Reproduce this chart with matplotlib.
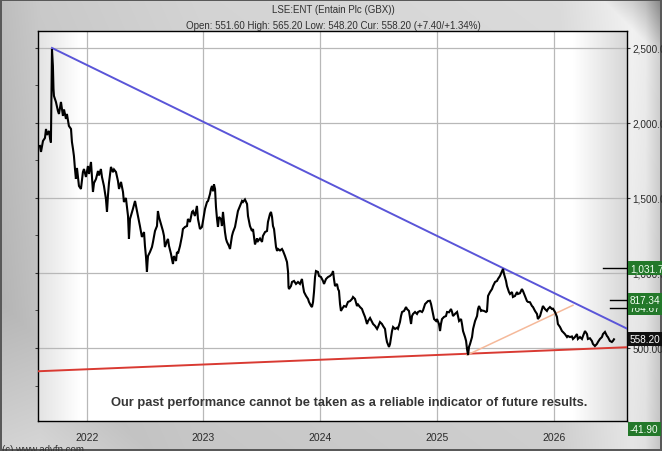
import numpy as np
import matplotlib
matplotlib.use("Agg")
import matplotlib.pyplot as plt
from matplotlib.transforms import blended_transform_factory

# ---------------- data ----------------
t = [2021.600, 2021.609, 2021.626, 2021.643, 2021.652, 2021.660, 2021.677, 2021.686, 2021.694, 2021.703,
     2021.711, 2021.716, 2021.720, 2021.737, 2021.754, 2021.763, 2021.780, 2021.797, 2021.806, 2021.823,
     2021.831, 2021.848, 2021.866, 2021.874, 2021.883, 2021.891, 2021.900, 2021.908, 2021.917, 2021.934,
     2021.951, 2021.968, 2021.977, 2021.994, 2022.011, 2022.020, 2022.037, 2022.054, 2022.063, 2022.080,
     2022.097, 2022.105, 2022.122, 2022.131, 2022.148, 2022.165, 2022.174, 2022.182, 2022.191, 2022.208,
     2022.225, 2022.234, 2022.251, 2022.268, 2022.277, 2022.294, 2022.311, 2022.319, 2022.336, 2022.354,
     2022.362, 2022.371, 2022.396, 2022.414, 2022.439, 2022.456,
     2022.473, 2022.491, 2022.499, 2022.508, 2022.516, 2022.521, 2022.525, 2022.542, 2022.559, 2022.568,
     2022.585, 2022.602, 2022.610, 2022.619, 2022.636, 2022.653, 2022.662, 2022.670, 2022.688, 2022.696,
     2022.705, 2022.722, 2022.730, 2022.739, 2022.747, 2022.765, 2022.773, 2022.782, 2022.799, 2022.816,
     2022.824, 2022.842, 2022.859, 2022.867, 2022.884, 2022.902, 2022.910, 2022.927, 2022.944, 2022.953,
     2022.970, 2022.987, 2022.996, 2023.013, 2023.030, 2023.039, 2023.056, 2023.064, 2023.073, 2023.082,
     2023.090, 2023.099, 2023.107, 2023.116, 2023.124, 2023.133, 2023.150, 2023.158, 2023.167, 2023.184,
     2023.193, 2023.201, 2023.218, 2023.227, 2023.244, 2023.253, 2023.270, 2023.287, 2023.295, 2023.313,
     2023.330, 2023.338, 2023.355, 2023.373, 2023.381, 2023.398, 2023.415, 2023.424, 2023.441, 2023.458,
     2023.467,
     2023.484, 2023.501, 2023.509, 2023.527, 2023.544, 2023.552, 2023.569, 2023.578, 2023.587, 2023.595,
     2023.604, 2023.621, 2023.630, 2023.638, 2023.655, 2023.672, 2023.681, 2023.698, 2023.715, 2023.724,
     2023.728, 2023.732, 2023.749, 2023.758, 2023.775, 2023.792, 2023.809, 2023.826, 2023.843, 2023.852,
     2023.861, 2023.878, 2023.895, 2023.903, 2023.921, 2023.929, 2023.938, 2023.946, 2023.955, 2023.963,
     2023.980, 2023.989, 2024.006, 2024.023, 2024.032, 2024.049, 2024.066, 2024.083, 2024.100, 2024.109,
     2024.117, 2024.126, 2024.143, 2024.152, 2024.160, 2024.169, 2024.177, 2024.186, 2024.203, 2024.220,
     2024.229, 2024.237, 2024.255, 2024.272, 2024.280, 2024.297, 2024.314, 2024.323, 2024.340, 2024.357,
     2024.366, 2024.383, 2024.400, 2024.409, 2024.426,
     2024.443, 2024.452, 2024.469, 2024.486, 2024.494, 2024.511, 2024.528, 2024.537, 2024.554, 2024.563,
     2024.571, 2024.588, 2024.597, 2024.606, 2024.614, 2024.623, 2024.640, 2024.657, 2024.665, 2024.682,
     2024.691, 2024.700, 2024.717, 2024.734, 2024.742, 2024.759, 2024.777, 2024.785, 2024.794, 2024.811,
     2024.828, 2024.837, 2024.854, 2024.871, 2024.879, 2024.897, 2024.914, 2024.922, 2024.939, 2024.948,
     2024.965, 2024.974, 2024.991, 2024.999, 2025.016, 2025.025, 2025.033, 2025.042, 2025.059, 2025.076,
     2025.085, 2025.102, 2025.119, 2025.128, 2025.136, 2025.153, 2025.171, 2025.179, 2025.188, 2025.205,
     2025.213, 2025.222, 2025.239, 2025.248, 2025.256, 2025.265, 2025.273, 2025.282, 2025.299, 2025.308,
     2025.325, 2025.342, 2025.350, 2025.359, 2025.376, 2025.385, 2025.402, 2025.419, 2025.427,
     2025.436, 2025.445, 2025.453, 2025.470, 2025.479, 2025.496, 2025.513, 2025.521, 2025.538, 2025.556,
     2025.564, 2025.573, 2025.590, 2025.598, 2025.615, 2025.624, 2025.641, 2025.649, 2025.667, 2025.684,
     2025.692, 2025.709, 2025.726, 2025.735, 2025.752, 2025.769, 2025.778, 2025.795, 2025.812, 2025.821,
     2025.838, 2025.855, 2025.863, 2025.881, 2025.898, 2025.906, 2025.923, 2025.940, 2025.949, 2025.966,
     2025.983, 2025.992, 2026.009, 2026.026, 2026.034, 2026.052, 2026.069, 2026.077, 2026.094, 2026.112,
     2026.120, 2026.137, 2026.154, 2026.163, 2026.180, 2026.197, 2026.205, 2026.223, 2026.240, 2026.249,
     2026.266, 2026.283, 2026.291, 2026.308, 2026.325, 2026.334, 2026.351, 2026.368, 2026.377, 2026.394,
     2026.411, 2026.420, 2026.437, 2026.454, 2026.462, 2026.479, 2026.496, 2026.505, 2026.514]

price = [1847, 1807, 1880, 1900, 1960, 1920, 1947, 1900, 1870, 2493,
         2380, 2227, 2180, 2140, 2080, 2060, 2140, 2047, 2090, 2027,
         2060, 1980, 1960, 1873, 1827, 1780, 1693, 1627, 1700, 1580,
         1560, 1673, 1693, 1640, 1713, 1660, 1740, 1540, 1600, 1627,
         1680, 1650, 1693, 1640, 1580, 1493, 1407, 1513, 1600, 1707,
         1672, 1690, 1673, 1613, 1560, 1607, 1540, 1473, 1500, 1380,
         1227, 1360, 1427, 1480, 1380, 1313,
         1240, 1273, 1180, 1107, 1007, 1073, 1113, 1140, 1173, 1207,
         1280, 1313, 1413, 1373, 1327, 1280, 1247, 1173, 1213, 1227,
         1180, 1127, 1093, 1060, 1113, 1080, 1140, 1130, 1180, 1247,
         1293, 1307, 1313, 1360, 1340, 1407, 1413, 1380, 1447, 1360,
         1293, 1307, 1347, 1427, 1473, 1480, 1527, 1560, 1580, 1545,
         1590, 1560, 1440, 1360, 1307, 1373, 1360, 1313, 1407, 1273,
         1227, 1207, 1180, 1160, 1247, 1273, 1307, 1380, 1413, 1447,
         1480, 1473, 1490, 1460, 1380, 1313, 1280, 1293, 1190, 1230,
         1213,
         1230, 1207, 1247, 1273, 1280, 1340, 1393, 1407, 1373, 1313,
         1293, 1173, 1147, 1160, 1150, 1160, 1147, 1113, 1073, 1007,
         907, 893, 913, 940, 947, 927, 940, 927, 960, 913,
         873, 847, 827, 807, 780, 773, 807, 873, 973, 1013,
         1007, 980, 973, 947, 927, 960, 973, 980, 993, 1013,
         960, 913, 927, 893, 880, 793, 747, 760, 780, 775,
         793, 807, 813, 827, 840, 827, 780, 790, 773, 760,
         740, 707, 660, 680, 700,
         673, 660, 647, 627, 640, 673, 660, 647, 627, 573,
         540, 507, 527, 573, 613, 640, 627, 635, 628, 673,
         713, 740, 747, 773, 760, 747, 660, 713, 727, 740,
         727, 740, 747, 740, 750, 793, 807, 813, 815, 793,
         727, 693, 680, 693, 660, 613, 660, 693, 707, 713,
         740, 738, 760, 740, 713, 727, 740, 713, 680, 693,
         660, 613, 573, 547, 493, 453, 507, 527, 573, 627,
         680, 713, 760, 780, 747, 750, 747, 740, 745,
         847, 860, 873, 893, 913, 940, 947, 960, 980, 1013,
         1027, 993, 947, 913, 873, 860, 873, 840, 847, 873,
         860, 865, 893, 880, 847, 813, 807, 805, 780, 773,
         747, 727, 693, 713, 760, 780, 760, 747, 760, 773,
         760, 762, 740, 707, 660, 640, 613, 607, 593, 573,
         580, 573, 577, 560, 573, 593, 560, 573, 560, 580,
         613, 593, 560, 565, 547, 527, 513, 527, 540, 560,
         573, 593, 607, 580, 573, 547, 540, 547, 558]

resist_t = [2021.703, 2026.623]
resist_v = [2500, 630]
support_t = [2021.586, 2026.623]
support_v = [345, 505]
trend_t = [2025.256, 2026.163]
trend_v = [453, 785]

x_ticks = [2022, 2023, 2024, 2025, 2026]
x_labels = ["2022", "2023", "2024", "2025", "2026"]
y_ticks = [500, 1000, 1500, 2000, 2500]
y_minor = [250, 750, 1250, 1750, 2250]

level_vals = [1031.70, 764.67, 817.34, 558.20, -41.90]
level_text = ["1,031.70", "764.67", "817.34", "558.20", "-41.90"]
level_kind = ["green", "green", "green", "black", "green"]
marker_vals = [1031.70, 817.34, 764.67]
marker_start = [0.960, 0.972, 0.972]

title = "LSE:ENT (Entain Plc (GBX))"
subtitle = "Open: 551.60 High: 565.20 Low: 548.20 Cur: 558.20 (+7.40/+1.34%)"
disclaimer = "Our past performance cannot be taken as a reliable indicator of future results."
footer = "(c) www.advfn.com"

# ---------------- figure ----------------
W, H = 662, 452
fig = plt.figure(figsize=(W / 100, H / 100), dpi=100)

# metallic frame background
bg = fig.add_axes([0, 0, 1, 1])
bg.set_axis_off()
xx, yy = np.meshgrid(np.arange(W), np.arange(H))
g = np.interp(xx, [0, 40, 200, 560, 632, 645, 662], [0.74, 0.79, 0.83, 0.86, 0.95, 0.93, 0.80])
g = g - 0.05 * (yy / H)
d = xx + (H - yy)
g = g + np.where(d < 150, 0.14 * (1 - d / 150), 0)
d2 = (W - xx) + yy
g = g - np.where(d2 < 60, 0.30 * (1 - d2 / 60), 0)
g = np.clip(g, 0, 1)
img = np.dstack([g, g, g])
img[:2, :, :] = 0.35
img[-2:, :, :] = 0.35
img[:, :2, :] = 0.35
img[:, -2:, :] = 0.35
bg.imshow(img, extent=[0, 1, 0, 1], aspect="auto", transform=bg.transAxes, interpolation="bilinear")
bg.set_xlim(0, 1)
bg.set_ylim(0, 1)

left, right, top, bottom = 38.3, 626.7, 32.3, 421.5
ax = fig.add_axes([left / W, (H - bottom) / H, (right - left) / W, (bottom - top) / H])
ax.patch.set_visible(False)

# plot area gradient
u = np.linspace(0, 1, 600)
pg = np.interp(u, [0, 0.07, 0.91, 1.0], [0.89, 1.0, 1.0, 0.84])
pimg = np.dstack([np.tile(pg, (10, 1))] * 3)
ax.imshow(pimg, extent=[0, 1, 0, 1], aspect="auto", transform=ax.transAxes, zorder=0,
          interpolation="bilinear")

ax.set_xlim(2021.586, 2026.623)
ax.set_ylim(16.7, 2611)

# grid
for xt in x_ticks:
    ax.axvline(xt, color="#b8b8b8", lw=0.9, zorder=1)
for yt in y_ticks:
    ax.axhline(yt, color="#b8b8b8", lw=0.9, zorder=1)

# lines
ax.plot(support_t, support_v, color="#d93a32", lw=1.4, zorder=3)
ax.plot(trend_t, trend_v, color="#f5b99a", lw=1.1, zorder=3)
ax.plot(resist_t, resist_v, color="#5a55d8", lw=1.4, zorder=3)
ax.plot(t, price, color="black", lw=1.5, zorder=4, solid_joinstyle="miter")

# level markers
tr = blended_transform_factory(ax.transAxes, ax.transData)
for v, s in zip(marker_vals, marker_start):
    ax.plot([s, 1.0], [v, v], color="black", lw=1.0, transform=tr, zorder=5, clip_on=False)

# axes formatting
ax.set_xticks(x_ticks)
ax.set_xticklabels(x_labels)
ax.yaxis.tick_right()
ax.set_yticks(y_ticks)
ax.set_yticklabels([f"{v:,.2f}" for v in y_ticks])
ax.set_yticks(y_minor, minor=True)
ax.tick_params(axis="x", length=0, pad=8.5, labelsize=7.5, labelcolor="#2a2a2a")
ax.tick_params(axis="y", which="major", right=True, left=True, direction="out", length=2.5,
               pad=1.5, labelsize=7.2, labelcolor="#2a2a2a", color="#333333")
ax.tick_params(axis="y", which="minor", left=True, right=False, direction="out", length=2.5,
               color="#333333")
for lab in ax.get_xticklabels() + ax.get_yticklabels():
    lab.set_fontfamily(["Liberation Sans", "DejaVu Sans"])
for sp in ax.spines.values():
    sp.set_color("black")
    sp.set_linewidth(1.0)

# right-hand value boxes
for v, txt, kind in zip(level_vals, level_text, level_kind):
    fc = "#23782a" if kind == "green" else "#101010"
    ax.text(1.0055, v, txt, transform=tr, ha="left", va="center", fontsize=7.2,
            family=["Liberation Sans", "DejaVu Sans"], color="#f2fff2" if kind == "green" else "white",
            clip_on=False, zorder=6,
            bbox=dict(boxstyle="square,pad=0.22", fc=fc, ec="none"))

# disclaimer
ax.text(0.529, 0.047, disclaimer, transform=ax.transAxes, ha="center", va="center",
        fontsize=9.3, fontweight="bold", color="#353535",
        family=["Liberation Sans", "DejaVu Sans"], zorder=6)

# titles
fig.text(333 / W, 1 - 10 / H, title, ha="center", va="center", fontsize=7,
         family=["Liberation Sans", "DejaVu Sans"], color="#303030")
fig.text(333 / W, 1 - 26 / H, subtitle, ha="center", va="center", fontsize=7,
         family=["Liberation Sans", "DejaVu Sans"], color="#303030")
fig.text(2 / W, 1 - 450 / H, footer, ha="left", va="center", fontsize=7,
         family=["Liberation Sans", "DejaVu Sans"], color="#303030")

fig.savefig("out.png", dpi=100)
